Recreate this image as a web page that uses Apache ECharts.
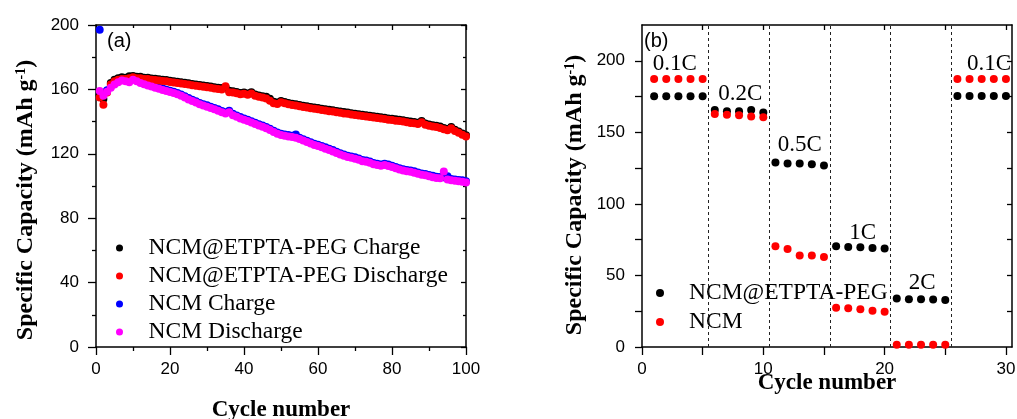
<!DOCTYPE html>
<html>
<head>
<meta charset="utf-8">
<script src="https://cdn.jsdelivr.net/npm/echarts@6/dist/echarts.min.js"></script>
<style>
  html, body { margin: 0; padding: 0; background: #fff; }
  #chart { width: 1017px; height: 419px; }
</style>
</head>
<body>
<div id="chart"></div>
<script>
// (a) 循环性能数据
const cycles = Array.from({ length: 100 }, (_, i) => i + 1);

const etptaCharge = [156.5, 154, 159, 164, 166, 167, 167.5, 167.3, 168.2, 168.4,
  167.8, 167.8, 167.3, 167.2, 166.8, 166.6, 166.3, 166, 165.8, 165.4,
  165.1, 164.8, 164.4, 164.1, 163.8, 163.4, 163, 162.8, 162.4, 162.1,
  161.8, 161.4, 161.1, 160.8, 161.5, 159.2, 158.8, 158.4, 157.8, 158.1,
  157.5, 158.3, 156.8, 156.2, 155.8, 155.4, 154.2, 152.4, 151.8, 152.8,
  152.2, 151.5, 151.1, 150.8, 150.3, 149.9, 149.5, 149.1, 148.8, 148.4,
  148, 147.7, 147.3, 147, 146.6, 146.3, 145.9, 145.6, 145.2, 144.9,
  144.6, 144.3, 143.9, 143.6, 143.3, 143, 142.7, 142.4, 142, 141.8,
  141.4, 141.1, 140.8, 140.4, 140, 139.7, 139.3, 140.4, 138.8, 138.2,
  137.8, 137.4, 136.9, 136.1, 135.4, 136.6, 135, 133.8, 132.6, 131.5];

const etptaDischarge = [155, 150.5, 158, 163, 165, 166, 166.5, 166.5, 167, 167.5,
  167, 167, 166.5, 166.5, 166, 165.8, 165.5, 165.2, 165, 164.6,
  164.3, 164, 163.6, 163.3, 163, 162.6, 162.2, 162, 161.6, 161.3,
  161, 160.6, 160.3, 160, 162, 158.3, 158, 157.6, 157, 157.3,
  156.7, 157.5, 156, 155.4, 155, 154.4, 153, 151.4, 151, 152,
  151.4, 150.7, 150.3, 150, 149.5, 149.1, 148.7, 148.3, 148, 147.6,
  147.2, 146.9, 146.5, 146.2, 145.8, 145.5, 145.1, 144.8, 144.4, 144.1,
  143.8, 143.5, 143.1, 142.8, 142.5, 142.2, 141.9, 141.6, 141.2, 141,
  140.6, 140.3, 140, 139.6, 139.2, 138.9, 138.5, 139.6, 138, 137.4,
  137, 136.6, 136.1, 135.3, 134.6, 135.8, 134.2, 133, 131.8, 130.7];

const ncmCharge = [197, 157, 159.5, 162, 164, 165.5, 166.3, 166, 165.5, 166.5,
  165.8, 164.8, 164, 163.3, 162.6, 161.8, 161.2, 160.5, 159.8, 159.2,
  158.6, 157.8, 156.8, 155.8, 154.6, 153.6, 152.6, 151.6, 150.8, 150.1,
  149.3, 148.4, 147.6, 146.6, 145.8, 146.8, 144.8, 143.8, 142.8, 142,
  141.1, 140.2, 139.3, 138.4, 137.6, 136.6, 135.6, 134.3, 133.3, 132.4,
  132, 131.6, 131.2, 132, 130, 129, 128.1, 127.2, 126.3, 125.6,
  124.8, 124, 123.2, 122.3, 121.3, 120.4, 119.6, 118.8, 118.3, 117.8,
  117.1, 116.2, 115.8, 115.2, 114.3, 113.8, 113.4, 113.8, 113.3, 112.6,
  111.8, 111.1, 110.4, 110, 109.6, 109.1, 108.4, 107.8, 107.4, 106.8,
  106.3, 105.8, 105.6, 105.5, 106, 104.3, 104.1, 103.8, 103.5, 103];

const ncmDischarge = [159, 156, 158.5, 161, 163, 164.5, 165.5, 165, 164.5, 166,
  165, 164, 163.2, 162.5, 161.8, 161, 160.4, 159.7, 159, 158.4,
  157.8, 157, 156, 155, 153.8, 152.8, 151.8, 150.8, 150, 149.3,
  148.5, 147.6, 146.8, 145.8, 145, 145.8, 144, 143, 142, 141.2,
  140.3, 139.4, 138.5, 137.6, 136.8, 135.8, 134.8, 133.5, 132.5, 131.6,
  131.2, 130.8, 130.4, 130, 129.2, 128.2, 127.3, 126.4, 125.5, 124.8,
  124, 123.2, 122.4, 121.5, 120.5, 119.6, 118.8, 118, 117.5, 117,
  116.3, 115.4, 115, 114.4, 113.5, 113, 112.6, 113, 112.5, 111.8,
  111, 110.3, 109.6, 109.2, 108.8, 108.3, 107.6, 107, 106.6, 106,
  105.5, 105, 104.8, 109, 104, 103.5, 103.3, 103, 102.7, 102.2];

// (b) 倍率性能数据
const rateCycles = Array.from({ length: 30 }, (_, i) => i + 1);
const rateEtpta = [175.2, 175.2, 175.2, 175.2, 175.2,
  165.6, 164.7, 164.7, 165.6, 163.8,
  129, 128.3, 128.3, 127.7, 126.8,
  70.4, 69.9, 69.7, 69.2, 68.8,
  33.9, 33.4, 33.4, 33.2, 32.8,
  175.4, 175.4, 175.4, 175.4, 175.4];
const rateNcm = [187.2, 187.2, 187.2, 187.2, 187.2,
  162.8, 162.2, 161.9, 161, 160.5,
  70.4, 68.5, 63.9, 63.9, 62.9,
  27.4, 27, 26.3, 25.3, 24.6,
  1.6, 1.6, 1.6, 1.6, 1.6,
  187.2, 187.2, 187.2, 187.2, 187.2];
const rateNames = ['0.1C', '0.2C', '0.5C', '1C', '2C', '0.1C'];
const rateLabelX = [2.7, 8.1, 13.0, 18.2, 23.1, 28.6];
const rateLabelY = [198, 177, 141, 80, 45, 198];
const rateBounds = [5.5, 10.5, 15.5, 20.5, 25.5];

const serif = 'Liberation Serif';
const sans = 'Liberation Sans';

const pair = (xs, ys) => xs.map((x, i) => [x, ys[i]]);

// 坐标轴公共样式
function bottomAxis(grid, opts) {
  return Object.assign({
    type: 'value', gridIndex: grid, position: 'bottom',
    axisLine: { onZero: false, lineStyle: { color: '#000', width: 1.5 } },
    axisTick: { show: true, inside: false, length: 8, lineStyle: { color: '#000', width: 1.3 } },
    minorTick: { show: true, splitNumber: 2, length: 4, lineStyle: { color: '#000', width: 1.3 } },
    axisLabel: { color: '#000', fontFamily: sans, fontSize: 17, margin: 14 },
    splitLine: { show: false },
    nameLocation: 'middle',
    nameMoveOverlap: false,
    nameTextStyle: { fontFamily: serif, fontWeight: 'bold', fontSize: 23, color: '#000' }
  }, opts);
}
function leftAxis(grid, opts) {
  return Object.assign({
    type: 'value', gridIndex: grid, position: 'left',
    axisLine: { onZero: false, lineStyle: { color: '#000', width: 1.5 } },
    axisTick: { show: true, inside: false, length: 8, lineStyle: { color: '#000', width: 1.3 } },
    minorTick: { show: true, splitNumber: 2, length: 4, lineStyle: { color: '#000', width: 1.3 } },
    axisLabel: { color: '#000', fontFamily: sans, fontSize: 17, margin: 17 },
    splitLine: { show: false },
    nameLocation: 'middle',
    nameMoveOverlap: false,
    nameRotate: 90
  }, opts);
}
function yNameStyle(shift) {
  return {
    fontFamily: serif, fontWeight: 'bold', fontSize: 24, color: '#000',
    padding: [0, shift, 0, 0],
    rich: { sup: { fontFamily: serif, fontWeight: 'bold', fontSize: 14, verticalAlign: 'top', color: '#000' } }
  };
}
function mirrorAxis(grid, pos, opts) {
  return Object.assign({
    type: 'value', gridIndex: grid, position: pos,
    axisLine: { onZero: false, lineStyle: { color: '#000', width: 1.5 } },
    axisTick: { show: true, inside: true, length: 5, lineStyle: { color: '#000', width: 1.3 } },
    minorTick: { show: true, splitNumber: 2, length: 3, lineStyle: { color: '#000', width: 1.3 } },
    axisLabel: { show: false },
    splitLine: { show: false }
  }, opts);
}

const yName = 'Specific Capacity (mAh g{sup|-1})';

const chart = echarts.init(document.getElementById('chart'));

const option = {
  animation: false,
  backgroundColor: '#fff',
  grid: [
    { left: 96, top: 25, width: 370, height: 322, outerBoundsMode: 'none', containLabel: false },
    { left: 642, top: 25, width: 370, height: 322, outerBoundsMode: 'none', containLabel: false }
  ],
  xAxis: [
    bottomAxis(0, { min: 0, max: 100, interval: 20, name: 'Cycle number', nameGap: 52 }),
    mirrorAxis(0, 'top', { min: 0, max: 100, interval: 20 }),
    bottomAxis(1, {
      min: 0, max: 30.5, name: 'Cycle number', nameGap: 25,
      minorTick: { show: false },
      axisTick: { show: true, length: 8, customValues: [0, 5, 10, 15, 20, 25, 30], lineStyle: { color: '#000', width: 1.3 } },
      axisLabel: { color: '#000', fontFamily: sans, fontSize: 17, margin: 14, customValues: [0, 10, 20, 30] }
    }),
    mirrorAxis(1, 'top', {
      min: 0, max: 30.5, minorTick: { show: false },
      axisTick: { show: true, inside: true, length: 5, customValues: [5, 10, 15, 20, 25, 30], lineStyle: { color: '#000', width: 1.3 } }
    })
  ],
  yAxis: [
    leftAxis(0, { min: 0, max: 200, interval: 40, name: yName, nameGap: 58, nameTextStyle: yNameStyle(28) }),
    mirrorAxis(0, 'right', { min: 0, max: 200, interval: 40 }),
    leftAxis(1, {
      min: 0, max: 225, name: yName, nameGap: 55, nameTextStyle: yNameStyle(18),
      minorTick: { show: false },
      axisTick: { show: true, length: 7, customValues: [0, 25, 50, 75, 100, 125, 150, 175, 200], lineStyle: { color: '#000', width: 1.3 } },
      axisLabel: { color: '#000', fontFamily: sans, fontSize: 17, margin: 17, customValues: [0, 50, 100, 150, 200] }
    }),
    mirrorAxis(1, 'right', {
      min: 0, max: 225, minorTick: { show: false },
      axisTick: { show: true, inside: true, length: 5, customValues: [25, 50, 75, 100, 125, 150, 175, 200], lineStyle: { color: '#000', width: 1.3 } }
    })
  ],
  legend: [
    {
      orient: 'vertical', left: 111, top: 231, itemWidth: 48, itemHeight: 7, itemGap: 4, icon: 'circle',
      textStyle: { fontFamily: serif, fontSize: 23.5, lineHeight: 23, color: '#000' },
      data: ['NCM@ETPTA-PEG Charge', 'NCM@ETPTA-PEG Discharge', 'NCM Charge', 'NCM Discharge']
    },
    {
      orient: 'vertical', left: 651, top: 276, itemWidth: 48, itemHeight: 8, itemGap: 5, icon: 'circle',
      textStyle: { fontFamily: serif, fontSize: 23.5, lineHeight: 23, color: '#000' },
      data: ['NCM@ETPTA-PEG', 'NCM']
    }
  ],
  graphic: [
    { type: 'text', left: 107, top: 31, style: { text: '(a)', font: '20px "Liberation Sans"', fill: '#000' } },
    { type: 'text', left: 644, top: 31, style: { text: '(b)', font: '20px "Liberation Sans"', fill: '#000' } }
  ],
  series: [
    { name: 'NCM@ETPTA-PEG Charge', type: 'scatter', xAxisIndex: 0, yAxisIndex: 0, symbolSize: 8,
      itemStyle: { color: '#000', opacity: 1 }, data: pair(cycles, etptaCharge) },
    { name: 'NCM Charge', type: 'scatter', xAxisIndex: 0, yAxisIndex: 0, symbolSize: 8,
      itemStyle: { color: '#0000ff', opacity: 1 }, data: pair(cycles, ncmCharge) },
    { name: 'NCM@ETPTA-PEG Discharge', type: 'scatter', xAxisIndex: 0, yAxisIndex: 0, symbolSize: 8,
      itemStyle: { color: '#ff0000', opacity: 1 }, data: pair(cycles, etptaDischarge) },
    { name: 'NCM Discharge', type: 'scatter', xAxisIndex: 0, yAxisIndex: 0, symbolSize: 8,
      itemStyle: { color: '#ff00ff', opacity: 1 }, data: pair(cycles, ncmDischarge) },
    { name: 'NCM@ETPTA-PEG', type: 'scatter', xAxisIndex: 2, yAxisIndex: 2, symbolSize: 8,
      itemStyle: { color: '#000', opacity: 1 }, data: pair(rateCycles, rateEtpta),
      markLine: {
        silent: true, symbol: 'none', label: { show: false },
        lineStyle: { color: '#222', width: 1, type: [3, 3], opacity: 1 },
        data: rateBounds.map(x => ({ xAxis: x }))
      } },
    { name: 'NCM', type: 'scatter', xAxisIndex: 2, yAxisIndex: 2, symbolSize: 8,
      itemStyle: { color: '#ff0000', opacity: 1 }, data: pair(rateCycles, rateNcm) },
    // 倍率标注
    { name: 'rate-label', type: 'scatter', xAxisIndex: 2, yAxisIndex: 2, symbolSize: 0, silent: true,
      itemStyle: { opacity: 1 },
      label: { show: true, position: 'inside', formatter: '{b}', fontFamily: serif, fontSize: 23, color: '#000', opacity: 1 },
      data: rateNames.map((n, i) => ({ name: n, value: [rateLabelX[i], rateLabelY[i]] })) }
  ]
};

chart.setOption(option);
</script>
</body>
</html>
